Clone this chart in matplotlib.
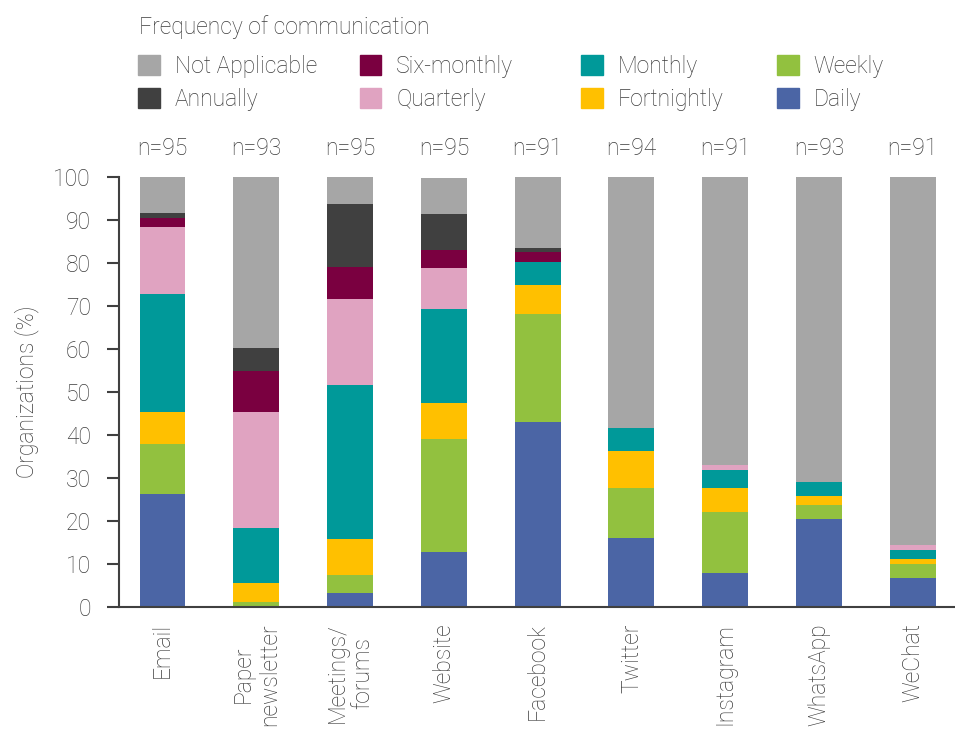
import numpy as np
import matplotlib.pyplot as plt
from matplotlib.patches import Patch

channels = ['Email', 'Paper\nnewsletter', 'Meetings/\nforums', 'Website', 'Facebook',
            'Twitter', 'Instagram', 'WhatsApp', 'WeChat']
n_labels = ['n=95', 'n=93', 'n=95', 'n=95', 'n=91', 'n=94', 'n=91', 'n=93', 'n=91']

# percentages per frequency, bottom to top of each bar
daily = [26.3, 0.0, 3.2, 12.6, 42.9, 16.0, 7.7, 20.4, 6.6]
weekly = [11.6, 1.1, 4.2, 26.3, 25.3, 11.7, 14.3, 3.2, 3.3]
fortnightly = [7.4, 4.3, 8.4, 8.4, 6.6, 8.5, 5.5, 2.2, 1.1]
monthly = [27.4, 12.9, 35.8, 22.1, 5.5, 5.3, 4.4, 3.2, 2.2]
quarterly = [15.8, 26.9, 20.0, 9.5, 0.0, 0.0, 1.1, 0.0, 1.1]
six_monthly = [2.1, 9.7, 7.4, 4.2, 2.2, 0.0, 0.0, 0.0, 0.0]
annually = [1.1, 5.4, 14.7, 8.4, 1.1, 0.0, 0.0, 0.0, 0.0]
not_applicable = [8.4, 39.8, 6.3, 8.4, 16.5, 58.5, 67.0, 71.0, 85.7]

series = [
    ('Daily', daily, '#4b65a5'),
    ('Weekly', weekly, '#92c13f'),
    ('Fortnightly', fortnightly, '#ffc000'),
    ('Monthly', monthly, '#009999'),
    ('Quarterly', quarterly, '#e0a3c1'),
    ('Six-monthly', six_monthly, '#7a0040'),
    ('Annually', annually, '#404040'),
    ('Not Applicable', not_applicable, '#a6a6a6'),
]

plt.rcParams['font.family'] = ['Roboto', 'DejaVu Sans']
plt.rcParams['font.weight'] = 'light'
plt.rcParams['axes.labelweight'] = 'light'
txt = '#3c3c3c'
fs = 16.5

fig = plt.figure(figsize=(9.55, 7.29), dpi=100)
ax = fig.add_axes([0.125, 0.168, 0.875, 0.589])

x = np.arange(len(channels))
bottom = np.zeros(len(channels))
for name, vals, col in series:
    vals = np.array(vals)
    ax.bar(x, vals, width=0.49, bottom=bottom, color=col, edgecolor='none', label=name)
    bottom += vals

for xi, lab in zip(x, n_labels):
    ax.text(xi, 104, lab, ha='center', va='bottom', fontsize=fs, color=txt)

ax.set_xlim(-0.46, 8.45)
ax.set_ylim(0, 100)
ax.set_yticks(range(0, 101, 10))
ax.set_xticks(x)
ax.set_xticklabels(channels, rotation=90, fontsize=fs, color=txt, va='top', ha='center',
                   linespacing=1.15)
ax.tick_params(axis='x', length=0, pad=12)
ax.tick_params(axis='y', length=8.5, width=1.5, color='#404040', labelsize=fs,
               labelcolor=txt, direction='out', pad=12)
ax.set_ylabel('Organizations (%)', fontsize=fs, color=txt, labelpad=10, fontweight='light')
for s in ['top', 'right']:
    ax.spines[s].set_visible(False)
for s in ['left', 'bottom']:
    ax.spines[s].set_color('#404040')
    ax.spines[s].set_linewidth(1.5)

fig.text(0.146, 0.963, 'Frequency of communication', fontsize=fs, color=txt,
         ha='left', va='center')

# one small legend per column so the columns sit on a fixed grid
handles = [Patch(color=col, label=name) for name, vals, col in series[::-1]]
col_x = [0.1445, 0.3765, 0.6085, 0.8135]
for i, cx in enumerate(col_x):
    leg = fig.legend(handles=handles[2 * i:2 * i + 2], loc='upper left',
                     bbox_to_anchor=(cx, 0.925), frameon=False, fontsize=fs,
                     handlelength=0.95, handleheight=0.95, handletextpad=0.65,
                     labelspacing=0.44, borderpad=0, borderaxespad=0)
    for t in leg.get_texts():
        t.set_color(txt)

fig.savefig('out.png', dpi=100)
